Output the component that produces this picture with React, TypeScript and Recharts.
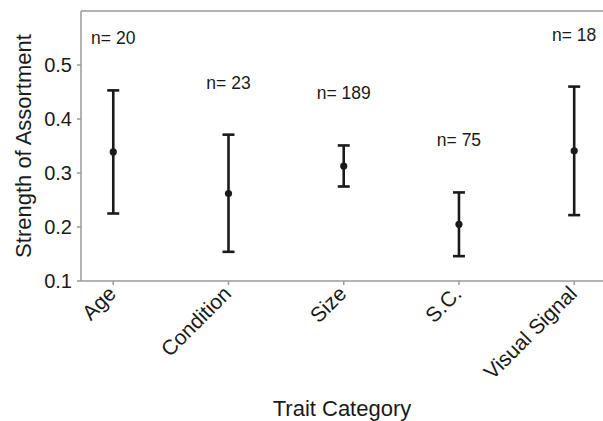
import React from 'react';
import { ScatterChart, Scatter, XAxis, YAxis, ErrorBar, Label } from 'recharts';

const categories = ['Age', 'Condition', 'Size', 'S.C.', 'Visual Signal'];
const means = [0.339, 0.262, 0.313, 0.205, 0.341];
const lower = [0.225, 0.154, 0.275, 0.146, 0.222];
const upper = [0.453, 0.371, 0.351, 0.264, 0.46];
const sampleSizes = [20, 23, 189, 75, 18];
const yTicks = [0.1, 0.2, 0.3, 0.4, 0.5];
const xTicks = [1, 2, 3, 4, 5];

const pointData = categories.map((c, i) => ({
  x: i + 1,
  y: means[i],
  err: [means[i] - lower[i], upper[i] - means[i]],
}));
const labelData = categories.map((c, i) => ({ x: i + 1, y: upper[i], n: sampleSizes[i] }));

const FONT = '"Liberation Sans", Arial, sans-serif';
const AXIS = '#9a9a9a';
const INK = '#1a1a1a';

const YTick = (props: any) => {
  const { x, y, payload } = props;
  return (
    <text x={x} y={y} textAnchor="end" dominantBaseline="central" fontSize={20} fill={INK} fontFamily={FONT}>
      {Number(payload.value).toFixed(1)}
    </text>
  );
};

const XTick = (props: any) => {
  const { x, y, payload } = props;
  const label = categories[Math.round(payload.value) - 1];
  return (
    <text transform={`translate(${x + 4},${y + 8}) rotate(-45)`} textAnchor="end" fontSize={21} fill={INK} fontFamily={FONT}>
      {label}
    </text>
  );
};

const Dot = (props: any) => {
  const { cx, cy } = props;
  return <circle cx={cx} cy={cy} r={3.6} fill={INK} />;
};

const NLabel = (props: any) => {
  const { cx, cy, payload } = props;
  return (
    <text x={cx} y={cy - 46} textAnchor="middle" fontSize={17.5} fill={INK} fontFamily={FONT}>
      {`n= ${payload.n}`}
    </text>
  );
};

export default function App() {
  return (
    <div style={{ position: 'absolute', left: 0, top: 0, width: 603, height: 421, background: '#fff', overflow: 'hidden' }}>
      <ScatterChart width={603} height={421} margin={{ top: 10, right: 0, bottom: 0, left: 0 }}>
        <XAxis
          xAxisId="top"
          orientation="top"
          type="number"
          dataKey="x"
          domain={[0.72, 5.25]}
          ticks={xTicks}
          allowDataOverflow
          height={1}
          tick={false}
          tickSize={4}
          axisLine={{ stroke: AXIS, strokeWidth: 1.5 }}
          tickLine={{ stroke: AXIS, strokeWidth: 1.5 }}
          interval={0}
        />
        <XAxis
          xAxisId="main"
          type="number"
          dataKey="x"
          domain={[0.72, 5.25]}
          ticks={xTicks}
          allowDataOverflow
          height={140}
          tickSize={4}
          tickMargin={2}
          tick={<XTick />}
          axisLine={{ stroke: AXIS, strokeWidth: 1.5 }}
          tickLine={{ stroke: AXIS, strokeWidth: 1.5 }}
          interval={0}
        >
          <Label
            content={(p: any) => {
              const vb = p.viewBox;
              return (
                <text x={vb.x + vb.width / 2} y={vb.y + 135} textAnchor="middle" fontSize={22} fill={INK} fontFamily={FONT}>
                  Trait Category
                </text>
              );
            }}
          />
        </XAxis>
        <YAxis
          type="number"
          dataKey="y"
          domain={[0.1, 0.6]}
          ticks={yTicks}
          allowDataOverflow
          width={81}
          tickSize={4}
          tickMargin={5}
          tick={<YTick />}
          axisLine={{ stroke: AXIS, strokeWidth: 1.5 }}
          tickLine={{ stroke: AXIS, strokeWidth: 1.5 }}
          interval={0}
        >
          <Label
            content={(p: any) => {
              const vb = p.viewBox;
              const cx = 23;
              const cy = vb.y + vb.height / 2;
              return (
                <text
                  x={cx}
                  y={cy}
                  transform={`rotate(-90, ${cx}, ${cy})`}
                  textAnchor="middle"
                  dominantBaseline="central"
                  fontSize={22}
                  fill={INK}
                  fontFamily={FONT}
                >
                  Strength of Assortment
                </text>
              );
            }}
          />
        </YAxis>
        <Scatter xAxisId="main" data={pointData} shape={<Dot />} isAnimationActive={false}>
          <ErrorBar dataKey="err" direction="y" width={6} stroke={INK} strokeWidth={2.6} isAnimationActive={false} />
        </Scatter>
        <Scatter xAxisId="top" data={labelData} shape={<NLabel />} isAnimationActive={false} />
      </ScatterChart>
    </div>
  );
}
